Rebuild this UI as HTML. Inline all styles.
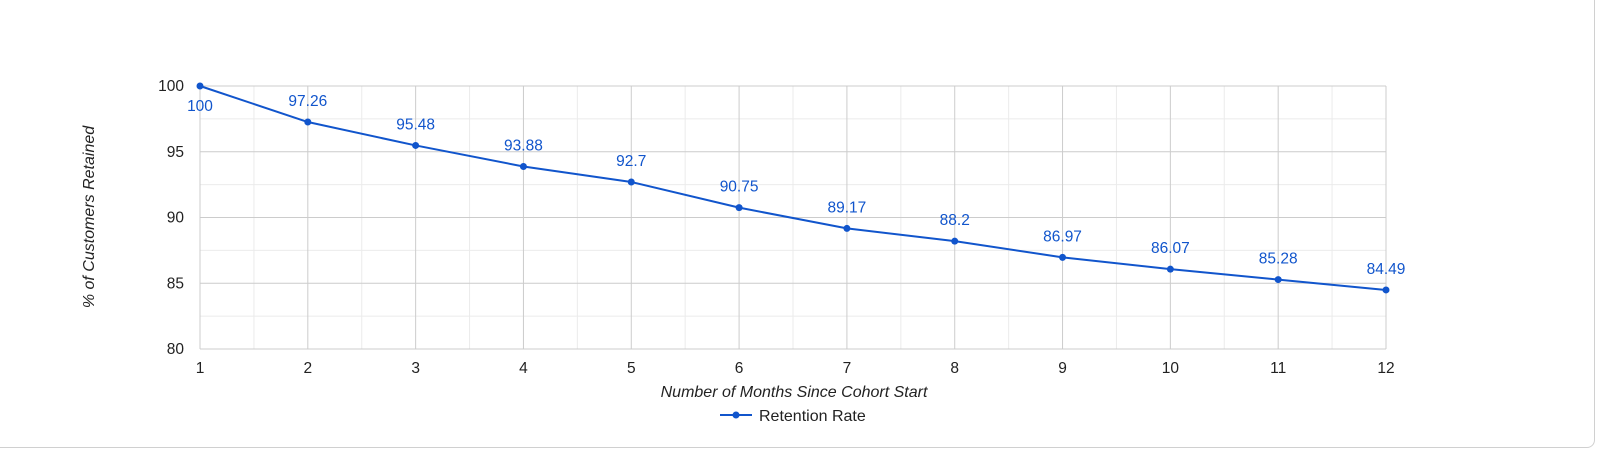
<!DOCTYPE html>
<html><head><meta charset="utf-8"><style>
body{margin:0;background:#fff;font-family:"Liberation Sans",Arial,sans-serif}
#card{position:absolute;left:-10px;top:-10px;width:1605px;height:458px;border:1px solid #d0d0d0;border-radius:8px;box-sizing:border-box}
</style></head><body>
<div id="card"></div>
<svg id="chart" width="1600" height="450" style="position:absolute;left:0;top:0"></svg>
<script>
const months=[1,2,3,4,5,6,7,8,9,10,11,12];
const retention=[100,97.26,95.48,93.88,92.7,90.75,89.17,88.2,86.97,86.07,85.28,84.49];
const yTicks=[80,85,90,95,100];
const svg=document.getElementById('chart');
const NS='http://www.w3.org/2000/svg';
const L=200,R=1386,T=86,B=349;
const x=v=>L+(v-1)*(R-L)/11;
const y=v=>B-(v-80)*(B-T)/20;
function el(t,a,p){const e=document.createElementNS(NS,t);for(const k in a)e.setAttribute(k,a[k]);(p||svg).appendChild(e);return e;}
for(let v=80;v<=100;v+=2.5){if(v%5){const g=el('line',{x1:L,x2:R,y1:y(v),y2:y(v),stroke:'#ebebeb'});}}
for(let v=1.5;v<12;v+=1){const g=el('line',{x1:x(v),x2:x(v),y1:T,y2:B,stroke:'#ebebeb'});}
yTicks.forEach(v=>{const g=el('line',{x1:L,x2:R,y1:y(v),y2:y(v),stroke:'#cccccc'});
const t=el('text',{x:184,y:y(v)+5,'text-anchor':'end','font-size':15.5,fill:'#222'});t.textContent=v;});
months.forEach(m=>{const g=el('line',{x1:x(m),x2:x(m),y1:T,y2:B,stroke:'#cccccc'});
const t=el('text',{x:x(m),y:373,'text-anchor':'middle','font-size':15.5,fill:'#222'});t.textContent=m;});
const pl=el('polyline',{points:months.map((m,i)=>x(m)+','+y(retention[i])).join(' '),fill:'none',stroke:'#1155cc','stroke-width':2});

months.forEach((m,i)=>{const c=el('circle',{cx:x(m),cy:y(retention[i]),r:3.5,fill:'#1155cc'});
const below=i===0;
const t=el('text',{x:x(m),y:below?y(retention[i])+25:y(retention[i])-16,'text-anchor':'middle','font-size':15.5,fill:'#1155cc'});t.textContent=retention[i];});
const xt=el('text',{x:794,y:397,'text-anchor':'middle','font-size':16,'font-style':'italic',fill:'#222'});xt.textContent='Number of Months Since Cohort Start';
const yt=el('text',{x:0,y:0,'text-anchor':'middle','font-size':16,'font-style':'italic',fill:'#222',transform:'translate(94,217) rotate(-90)'});yt.textContent='% of Customers Retained';
const lg=el('g',{});
el('line',{x1:720,x2:752,y1:415,y2:415,stroke:'#1155cc','stroke-width':2},lg);
el('circle',{cx:736,cy:415,r:3.5,fill:'#1155cc'},lg);
const lt=el('text',{x:759,y:421,'font-size':16,fill:'#222'},lg);lt.textContent='Retention Rate';
</script>
</body></html>
